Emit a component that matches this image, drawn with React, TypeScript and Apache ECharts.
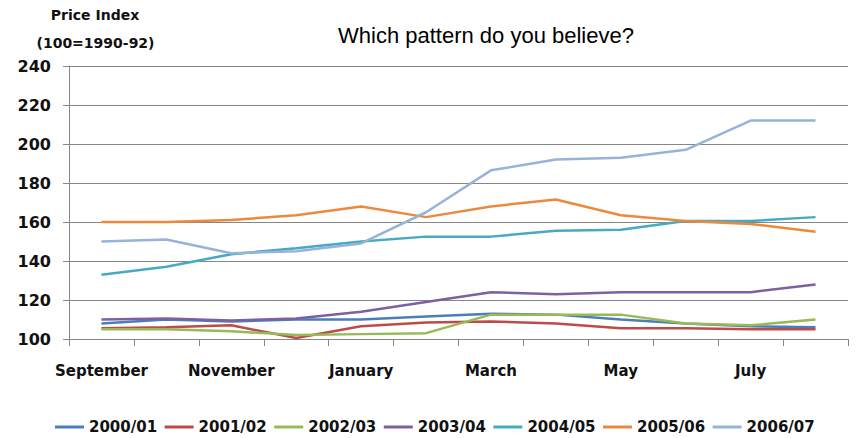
import React, { useEffect, useRef } from "react";
import * as echarts from "echarts";

// Months of the marketing year, September through August
const months = [
  "September", "October", "November", "December", "January", "February",
  "March", "April", "May", "June", "July", "August",
];

const seasons = ["2000/01", "2001/02", "2002/03", "2003/04", "2004/05", "2005/06", "2006/07"];

const s2000_01 = [108, 110, 109, 110, 110, 111.5, 113, 112.5, 110, 108, 106.5, 106];
const s2001_02 = [105.5, 106, 107, 100.5, 106.5, 108.5, 109, 108, 105.5, 105.5, 105, 105];
const s2002_03 = [105, 105, 104, 102, 102.5, 103, 112.5, 112.5, 112.5, 108, 107, 110];
const s2003_04 = [110, 110.5, 109.5, 110.5, 114, 119, 124, 123, 124, 124, 124, 128];
const s2004_05 = [133, 137, 143.5, 146.5, 150, 152.5, 152.5, 155.5, 156, 160.5, 160.5, 162.5];
const s2005_06 = [160, 160, 161, 163.5, 168, 162.5, 168, 171.5, 163.5, 160.5, 159, 155];
const s2006_07 = [150, 151, 144, 145, 149, 165, 186.5, 192, 193, 197, 212, 212];

const seriesValues = [s2000_01, s2001_02, s2002_03, s2003_04, s2004_05, s2005_06, s2006_07];

const colors = ["#4A7EBB", "#BE4B48", "#98B954", "#7D60A0", "#46AAC5", "#EB8A3E", "#97B3DA"];

const yMin = 100;
const yMax = 240;
const yStep = 20;

const boldFont = "DejaVu Sans";
const gridColor = "#868686";

export default function App() {
  const ref = useRef<HTMLDivElement>(null);

  useEffect(() => {
    if (!ref.current) return;
    const chart = echarts.init(ref.current, null, { renderer: "svg" });

    chart.setOption({
      animation: false,
      backgroundColor: "#ffffff",
      title: {
        text: "Which pattern do you believe?",
        left: 338,
        top: 24,
        padding: 0,
        textStyle: {
          fontFamily: "Liberation Sans",
          fontSize: 22,
          fontWeight: "normal",
          color: "#000000",
        },
      },
      graphic: [
        {
          type: "text",
          x: 95,
          y: 15,
          style: {
            text: "Price Index",
            fontFamily: boldFont,
            fontWeight: "bold",
            fontSize: 14,
            fill: "#111111",
            textAlign: "center",
            textVerticalAlign: "middle",
          },
        },
        {
          type: "text",
          x: 95.5,
          y: 42.5,
          style: {
            text: "(100=1990-92)",
            fontFamily: boldFont,
            fontWeight: "bold",
            fontSize: 14,
            fill: "#111111",
            textAlign: "center",
            textVerticalAlign: "middle",
          },
        },
      ],
      legend: {
        data: seasons,
        left: 55,
        top: 417,
        height: 20,
        icon: "rect",
        itemWidth: 29,
        itemHeight: 3,
        itemGap: 7.5,
        padding: 0,
        textStyle: {
          fontFamily: boldFont,
          fontWeight: "bold",
          fontSize: 15,
          lineHeight: 20,
          color: "#111111",
        },
      },
      grid: {
        left: 69,
        right: 8,
        top: 66,
        bottom: 99,
        containLabel: false,
      },
      xAxis: {
        type: "category",
        data: months,
        boundaryGap: true,
        axisLine: { show: true, lineStyle: { color: gridColor, width: 1 } },
        axisTick: {
          show: true,
          interval: 0,
          length: 7,
          lineStyle: { color: gridColor, width: 1 },
        },
        axisLabel: {
          interval: 1,
          margin: 24,
          fontFamily: boldFont,
          fontWeight: "bold",
          fontSize: 15,
          color: "#111111",
        },
        splitLine: { show: false },
      },
      yAxis: {
        type: "value",
        min: yMin,
        max: yMax,
        interval: yStep,
        axisLine: { show: true, lineStyle: { color: gridColor, width: 1 } },
        axisTick: { show: true, length: 6, lineStyle: { color: gridColor, width: 1 } },
        axisLabel: {
          margin: 18,
          fontFamily: boldFont,
          fontWeight: "bold",
          fontSize: 16,
          color: "#111111",
        },
        splitLine: { show: true, lineStyle: { color: gridColor, width: 1 } },
      },
      series: seasons.map((name, i) => ({
        name,
        type: "line",
        data: seriesValues[i],
        symbol: "none",
        smooth: false,
        lineStyle: { color: colors[i], width: 2.5 },
        itemStyle: { color: colors[i] },
      })),
    });

    return () => chart.dispose();
  }, []);

  return <div ref={ref} style={{ width: 856, height: 438, position: "absolute", left: 0, top: 0 }} />;
}
